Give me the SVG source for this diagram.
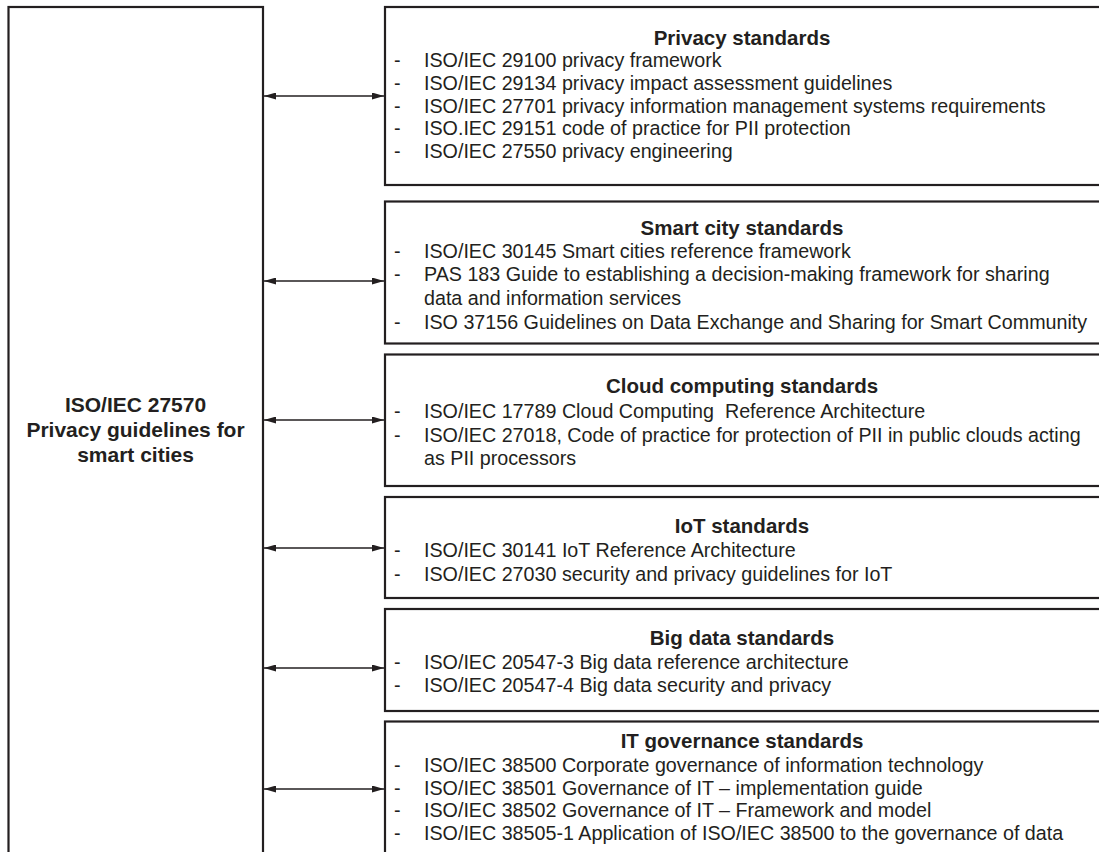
<svg xmlns="http://www.w3.org/2000/svg" width="1099" height="852" viewBox="0 0 1099 852">
<defs>
<style>
.box{fill:#fff;stroke:#231f20;stroke-width:2.2}
.conn{stroke:#231f20;stroke-width:1.3;fill:none;marker-start:url(#ah);marker-end:url(#ah)}
.t{font-family:"Liberation Sans",Arial,sans-serif;font-size:19.7px;fill:#231f20}
.h{font-family:"Liberation Sans",Arial,sans-serif;font-size:20.5px;font-weight:bold;fill:#231f20;text-anchor:middle}
.m{font-family:"Liberation Sans",Arial,sans-serif;font-size:21px;font-weight:bold;fill:#231f20;text-anchor:middle}
</style>
<marker id="ah" viewBox="0 0 12 7" refX="12" refY="3.5" markerWidth="12" markerHeight="7" markerUnits="userSpaceOnUse" orient="auto-start-reverse">
<path d="M0,0 L12,3.5 L0,7 z" fill="#231f20"/>
</marker>
</defs>
<rect width="1099" height="852" fill="#fff"/>

<g id="main">
<rect class="box" x="8.5" y="7" width="254.5" height="870"/>
<text class="m" x="135.5" y="412">ISO/IEC 27570</text>
<text class="m" x="135.5" y="437">Privacy guidelines for</text>
<text class="m" x="135.5" y="462">smart cities</text>
</g>

<g id="privacy">
<rect class="box" x="385" y="7" width="730" height="178"/>
<text class="h" x="742" y="45">Privacy standards</text>
<text class="t" x="394" y="67">-</text><text class="t" x="424" y="67">ISO/IEC 29100 privacy framework</text>
<text class="t" x="394" y="90">-</text><text class="t" x="424" y="90">ISO/IEC 29134 privacy impact assessment guidelines</text>
<text class="t" x="394" y="112.5">-</text><text class="t" x="424" y="112.5">ISO/IEC 27701 privacy information management systems requirements</text>
<text class="t" x="394" y="135">-</text><text class="t" x="424" y="135">ISO.IEC 29151 code of practice for PII protection</text>
<text class="t" x="394" y="157.5">-</text><text class="t" x="424" y="157.5">ISO/IEC 27550 privacy engineering</text>
</g>

<g id="smartcity">
<rect class="box" x="385" y="201.5" width="730" height="142"/>
<text class="h" x="742" y="235">Smart city standards</text>
<text class="t" x="394" y="257.5">-</text><text class="t" x="424" y="257.5">ISO/IEC 30145 Smart cities reference framework</text>
<text class="t" x="394" y="281">-</text><text class="t" x="424" y="281">PAS 183 Guide to establishing a decision-making framework for sharing</text>
<text class="t" x="424" y="305">data and information services</text>
<text class="t" x="394" y="329">-</text><text class="t" x="424" y="329">ISO 37156 Guidelines on Data Exchange and Sharing for Smart Community</text>
</g>

<g id="cloud">
<rect class="box" x="385" y="354.5" width="730" height="131.5"/>
<text class="h" x="742" y="393">Cloud computing standards</text>
<text class="t" x="394" y="418">-</text><text class="t" x="424" y="418">ISO/IEC 17789 Cloud Computing&#160; Reference Architecture</text>
<text class="t" x="394" y="441.5">-</text><text class="t" x="424" y="441.5">ISO/IEC 27018, Code of practice for protection of PII in public clouds acting</text>
<text class="t" x="424" y="465">as PII processors</text>
</g>

<g id="iot">
<rect class="box" x="385" y="497" width="730" height="101"/>
<text class="h" x="742" y="533">IoT standards</text>
<text class="t" x="394" y="557">-</text><text class="t" x="424" y="557">ISO/IEC 30141 IoT Reference Architecture</text>
<text class="t" x="394" y="580.5">-</text><text class="t" x="424" y="580.5">ISO/IEC 27030 security and privacy guidelines for IoT</text>
</g>

<g id="bigdata">
<rect class="box" x="385" y="609" width="730" height="102"/>
<text class="h" x="742" y="645">Big data standards</text>
<text class="t" x="394" y="668.5">-</text><text class="t" x="424" y="668.5">ISO/IEC 20547-3 Big data reference architecture</text>
<text class="t" x="394" y="692">-</text><text class="t" x="424" y="692">ISO/IEC 20547-4 Big data security and privacy</text>
</g>

<g id="itgov">
<rect class="box" x="385" y="721.5" width="730" height="200"/>
<text class="h" x="742" y="747.5">IT governance standards</text>
<text class="t" x="394" y="772">-</text><text class="t" x="424" y="772">ISO/IEC 38500 Corporate governance of information technology</text>
<text class="t" x="394" y="795">-</text><text class="t" x="424" y="795">ISO/IEC 38501 Governance of IT – implementation guide</text>
<text class="t" x="394" y="817">-</text><text class="t" x="424" y="817">ISO/IEC 38502 Governance of IT – Framework and model</text>
<text class="t" x="394" y="840">-</text><text class="t" x="424" y="840">ISO/IEC 38505-1 Application of ISO/IEC 38500 to the governance of data</text>
</g>

<g id="connectors">
<line class="conn" x1="264" y1="96" x2="384" y2="96"/>
<line class="conn" x1="264" y1="281" x2="384" y2="281"/>
<line class="conn" x1="264" y1="420" x2="384" y2="420"/>
<line class="conn" x1="264" y1="548" x2="384" y2="548"/>
<line class="conn" x1="264" y1="668" x2="384" y2="668"/>
<line class="conn" x1="264" y1="789" x2="384" y2="789"/>
</g>
</svg>
